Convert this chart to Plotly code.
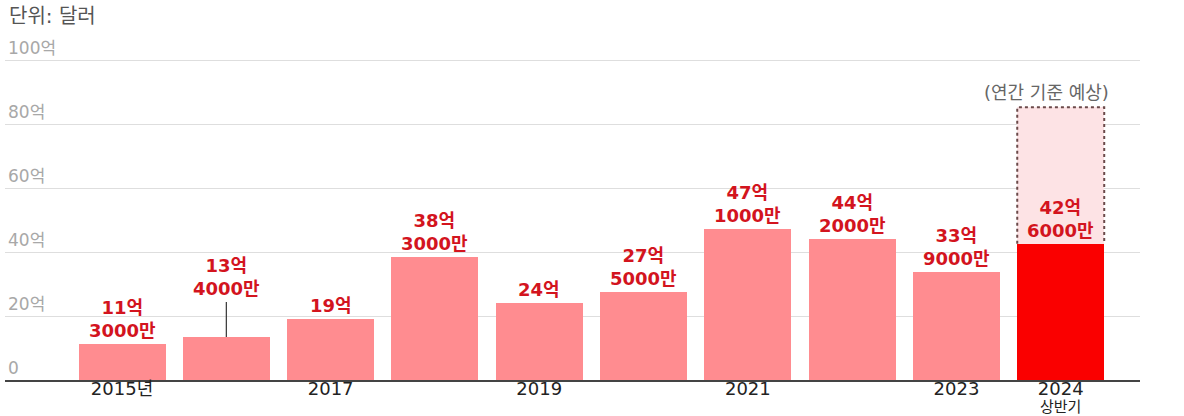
import plotly.graph_objects as go

# ---- data ----
years = [2015, 2016, 2017, 2018, 2019, 2020, 2021, 2022, 2023, 2024]
values = [11.3, 13.4, 19.0, 38.3, 24.0, 27.5, 47.1, 44.2, 33.9, 42.6]   # 억 달러
forecast_2024 = 85.2                                                    # 연간 기준 예상
x_tick_pos = [0, 2, 4, 6, 8, 9]
x_tick_text = ["2015년", "2017", "2019", "2021", "2023", "2024"]
last_sub_label = "상반기"
y_tick_vals = [0, 20, 40, 60, 80, 100]
y_tick_text = ["0", "20억", "40억", "60억", "80억", "100억"]

# ---- style ----
BAR_COLOR = "#ff8c90"
HIGHLIGHT = "#fa0000"
FORECAST_FILL = "#fde3e5"
LABEL_COLOR = "#d3141e"
BAR_W = 0.834
LEADER_IDX = 1
LEADER_OFFSET = 11.0
FONT = "DejaVu Sans, Noto Sans CJK KR, sans-serif"


def fmt(v):
    eok = int(v)
    man = int(round((v - eok) * 10000))
    return f"{eok}억" if man == 0 else f"{eok}억<br>{man}만"


xs = list(range(len(years)))
colors = [BAR_COLOR] * (len(years) - 1) + [HIGHLIGHT]

fig = go.Figure()

last = xs[-1]
fig.add_trace(go.Bar(
    x=[last], y=[forecast_2024 - values[-1]], base=[values[-1]],
    width=BAR_W, marker=dict(color=FORECAST_FILL, line=dict(width=0)),
    hoverinfo="skip", showlegend=False))

fig.add_trace(go.Bar(
    x=xs, y=values, width=BAR_W,
    marker=dict(color=colors, line=dict(width=0)),
    showlegend=False))

hw = BAR_W / 2
fig.add_trace(go.Scatter(
    x=[last - hw, last - hw, last + hw, last + hw],
    y=[values[-1], forecast_2024, forecast_2024, values[-1]],
    mode="lines", line=dict(color="#6b4a4a", width=2, dash="dot"),
    hoverinfo="skip", showlegend=False))

fig.add_trace(go.Scatter(
    x=[xs[LEADER_IDX], xs[LEADER_IDX]],
    y=[values[LEADER_IDX], values[LEADER_IDX] + LEADER_OFFSET],
    mode="lines", line=dict(color="#333333", width=1.2),
    hoverinfo="skip", showlegend=False))

annotations = []
for i, v in enumerate(values):
    y = v + (LEADER_OFFSET if i == LEADER_IDX else 0)
    annotations.append(dict(
        x=xs[i], y=y, xref="x", yref="y", text=fmt(v), showarrow=False,
        yanchor="bottom", yshift=1,
        font=dict(family=FONT, size=18, color=LABEL_COLOR, weight="bold")))

annotations.append(dict(
    x=last, y=forecast_2024, xref="x", yref="y", text="(연간 기준 예상)",
    showarrow=False, yanchor="bottom", yshift=2, xshift=-14,
    font=dict(family=FONT, size=18, color="#666666")))

annotations.append(dict(
    x=last, y=0, xref="x", yref="paper", text=last_sub_label,
    showarrow=False, yanchor="top", yshift=-17, borderpad=0,
    font=dict(family=FONT, size=15, color="#222222")))

annotations.append(dict(
    x=0, y=1.0, xref="paper", yref="paper", text="단위: 달러",
    showarrow=False, xanchor="left", yanchor="middle", xshift=2, yshift=12,
    font=dict(family=FONT, size=20, color="#555555")))

fig.update_layout(
    width=1184, height=416,
    margin=dict(l=5, r=44, t=28, b=36),
    paper_bgcolor="white", plot_bgcolor="white",
    barmode="overlay", bargap=0,
    annotations=annotations,
    xaxis=dict(
        range=[-1.122, 9.76], tickmode="array", tickvals=x_tick_pos,
        ticktext=x_tick_text, showgrid=False, zeroline=False,
        showline=True, linecolor="#444444", linewidth=1.5, ticks="",
        ticklabelstandoff=-8,
        tickfont=dict(family=FONT, size=18, color="#222222"),
        automargin=False, fixedrange=True),
    yaxis=dict(
        range=[0, 110], tickmode="array", tickvals=y_tick_vals,
        ticktext=y_tick_text, showgrid=True, gridcolor="#dedede",
        gridwidth=1, zeroline=False, showline=False, ticks="",
        ticklabelposition="inside top",
        tickfont=dict(family=FONT, size=17, color="#a8a8a8"),
        automargin=False, fixedrange=True),
)

fig.write_html("out.html")
